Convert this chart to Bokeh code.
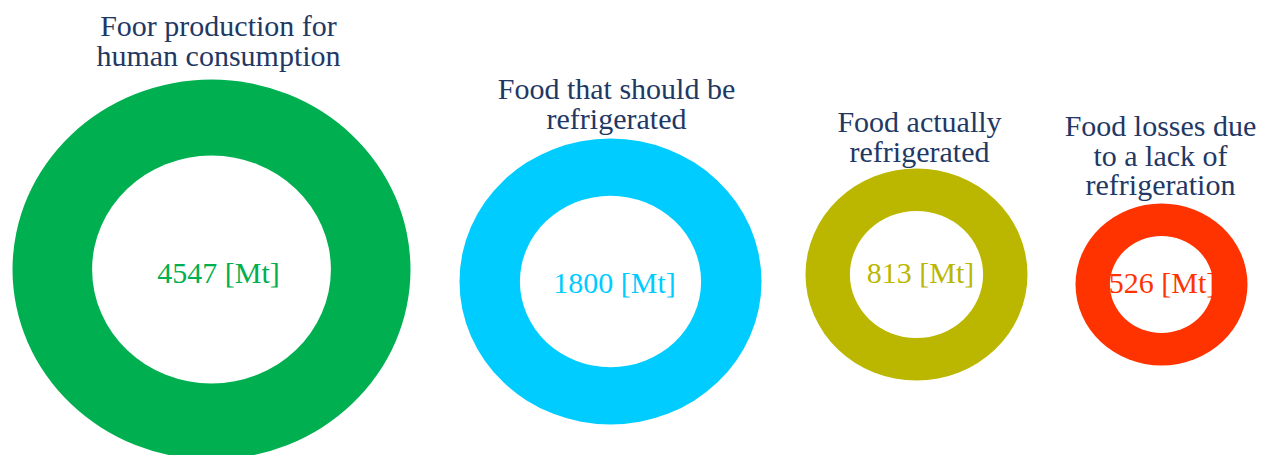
from bokeh.plotting import figure
from bokeh.models import Range1d, ColumnDataSource
from bokeh.embed import file_html
from bokeh.resources import INLINE
from bokeh.core.properties import value

# ---- data ----
categories = [
    "Foor production for\nhuman consumption",
    "Food that should be\nrefrigerated",
    "Food actually\nrefrigerated",
    "Food losses due\nto a lack of\nrefrigeration",
]
values_mt = [4547, 1800, 813, 526]
unit = "[Mt]"
colors = ["#00B050", "#00CCFF", "#BBB700", "#FF3300"]

# ---- layout (pixels, y measured from top) ----
cx = [211, 610, 916, 1161]
cy = [269, 281, 274, 284]
rx = [199, 151, 111, 86]
ry = [190, 143, 106, 81]
hole = 0.6
title_x = [218, 616, 919, 1160]
title_mid = [25, 88, 121, 125]
line_gap = 29.5
label_x = [218, 614, 920, 1162]
label_y = [272, 282, 272, 282]

W, H = 1261, 455
p = figure(width=W, height=H, output_backend="svg", toolbar_location=None,
           x_range=Range1d(0, W), y_range=Range1d(H, 0),
           x_axis_location=None, y_axis_location=None, min_border=0)
p.grid.visible = False
p.outline_line_color = None
p.background_fill_color = "white"

rings = ColumnDataSource(dict(x=cx, y=cy, w=[2 * r for r in rx], h=[2 * r for r in ry],
                              wi=[2 * r * hole for r in rx], hi=[2 * r * hole for r in ry],
                              c=colors))
p.ellipse(x="x", y="y", width="w", height="h", fill_color="c", line_color=None, source=rings)
p.ellipse(x="x", y="y", width="wi", height="hi", fill_color="white", line_color=None, source=rings)

tx, ty, tt = [], [], []
for i, cat in enumerate(categories):
    for j, line in enumerate(cat.split("\n")):
        tx.append(title_x[i]); ty.append(title_mid[i] + j * line_gap); tt.append(line)
p.text(x=tx, y=ty, text=tt, text_align="center", text_baseline="middle",
       text_font=value("Liberation Serif"), text_font_size="30px", text_color="#1F3864")

labels = ColumnDataSource(dict(x=label_x, y=label_y,
                               t=[f"{v} {unit}" for v in values_mt], c=colors))
p.text(x="x", y="y", text="t", text_color="c", text_align="center", text_baseline="middle",
       text_font=value("Liberation Serif"), text_font_size="30px", source=labels)

open("out.html", "w").write(file_html(p, INLINE))
